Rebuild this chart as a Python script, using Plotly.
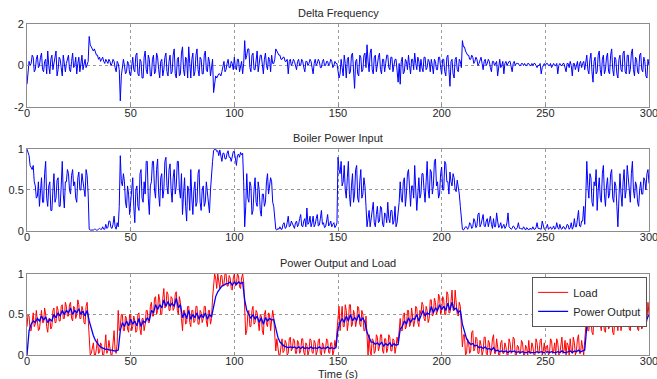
import plotly.graph_objects as go

# sample times
t_fast = [i * 0.5 for i in range(601)]   # 0.5 s samples
t_slow = list(range(301))                # 1 s samples

delta_freq = [
 -0.9,-0.2, 0.2,0.0, 0.1,0.5, 0.4,-0.3, -0.2,0.3,
 0.5,-0.1, 0.0,0.4, 0.6,-0.2, -0.3,0.2, 0.3,-0.4,
 0.7,0.0, -0.4,0.3, 0.5,-0.2, 0.1,0.6, 0.7,-0.5,
 -0.2,0.4, 0.3,-0.1, -0.5,0.5, 0.2,-0.3, 0.1,0.3,
 0.5,-0.2, -0.3,0.2, 0.6,-0.1, 0.0,0.4, -0.4,0.1,
 0.4,-0.3, 0.2,0.5, -0.2,0.1, 0.3,-0.1, 0.1,0.2,
 1.4,1.0, 0.9,0.8, 0.7,0.8, 0.6,0.5, 0.5,0.3,
 0.4,0.2, 0.3,0.4, 0.2,0.1, 0.3,0.2, 0.1,0.3,
 0.2,0.0, 0.1,0.3, 0.2,-0.1, -0.3,0.2, 0.1,-0.2,
 -1.7,-0.5, -0.2,0.3, 0.0,-0.4, -0.3,0.2, 0.1,-0.4,
 -0.5,0.2, 0.4,-0.2, -0.3,0.5, 0.6,-0.4, -0.5,0.3,
 0.2,-0.6, -0.6,0.4, 0.7,-0.2, -0.4,0.5, 0.3,-0.5,
 -0.5,0.3, 0.5,-0.4, -0.3,0.6, 0.4,-0.2, -0.6,0.2,
 0.3,-0.5, -0.2,0.4, 0.6,-0.3, -0.5,0.2, 0.5,-0.4,
 -0.3,0.5, 0.8,-0.4, -0.6,0.3, 0.4,-0.5, -0.4,0.6,
 0.9,-0.2, -0.5,0.4, 0.3,-0.6, 0.9,0.1, -0.6,0.3,
 0.6,-0.5, -0.3,0.5, 0.8,-0.2, -0.5,0.4, 0.3,-0.4,
 -0.4,0.5, 0.7,-0.2, -0.3,0.4, 0.2,-0.5, -0.2,0.3,
 -1.3,-0.8, -0.5,-0.6, -0.5,-0.4, -0.4,-0.5, -0.3,0.0,
 0.2,-0.3, -0.2,0.1, 0.3,-0.1, -0.1,0.2, 0.1,-0.2,
 0.4,-0.1, -0.2,0.3, 0.3,-0.3, 0.0,0.2, -0.4,0.1,
 1.2,0.3, 0.5,0.8, 0.8,-0.1, -0.3,0.5, 0.6,-0.2,
 -0.2,0.4, 0.7,-0.3, 0.1,0.5, 0.5,-0.2, -0.4,0.3,
 0.6,0.0, -0.2,0.4, 0.3,-0.3, 0.5,0.1, 0.1,0.3,
 0.8,0.7, 0.6,0.5, 0.5,0.3, 0.3,0.4, 0.4,0.2,
 0.2,0.3, -0.4,0.2, 0.3,0.0, 0.1,0.3, 0.2,-0.1,
 -0.2,0.2, 0.3,0.0, 0.0,0.3, 0.2,-0.1, -0.3,0.2,
 0.2,0.0, 0.1,0.3, 0.2,-0.1, -0.4,0.1, 0.3,0.0,
 0.1,0.3, 0.2,-0.1, -0.1,0.2, 0.3,0.0, 0.0,0.2,
 0.2,0.0, 0.1,0.3, 0.2,-0.1, 0.0,0.2, 0.1,0.1,
 -0.3,-0.6, -0.4,0.3, -0.1,-0.5, 0.5,0.1, -0.6,0.3,
 0.4,-0.4, -0.3,0.5, 0.6,-0.2, -1.1,0.2, 0.3,-0.4,
 -0.5,0.5, 0.4,-0.3, -0.2,0.5, 0.6,-0.1, 1.0,0.2,
 -0.3,0.6, 0.8,-0.2, -0.4,0.4, 0.5,-0.3, 0.1,0.4,
 0.6,-0.2, -0.4,0.3, 0.3,-0.3, 0.1,0.5, 0.5,-0.1,
 -0.2,0.4, 0.4,-0.3, 0.0,0.3, 0.3,-0.2, -0.8,0.1,
 -0.9,0.2, 0.4,-0.4, -0.3,0.3, 0.2,-0.2, 0.5,0.0,
 -0.4,0.3, 0.3,-0.2, 0.6,0.1, -0.2,0.4, 0.2,-0.3,
 0.3,-0.1, -0.3,0.4, 0.4,-0.2, -0.1,0.3, 0.2,-0.3,
 0.3,0.0, -0.4,0.3, 0.2,-0.2, -0.2,0.4, 0.4,-0.1,
 -0.4,0.3, 0.3,-0.3, -0.5,0.4, 0.5,-0.2, -1.0,0.2,
 0.3,-0.4, -0.6,0.3, 0.4,-0.2, -0.3,0.3, 0.2,-0.1,
 1.2,0.9, 0.9,0.7, 0.6,0.5, 0.5,0.3, 0.3,0.5,
 0.4,0.1, 0.2,0.4, 0.3,0.0, 0.1,0.3, 0.4,0.1,
 -0.2,0.2, 0.3,0.0, 0.1,0.3, 0.2,-0.1, -0.3,0.2,
 0.2,0.0, 0.1,0.2, -0.5,0.1, 0.3,-0.1, 0.0,0.2,
 -0.4,0.1, 0.2,0.0, 0.1,0.2, 0.2,-0.1, -0.3,0.1,
 0.2,0.0, 0.1,0.1, 0.1,0.0, 0.0,0.1, 0.1,0.0,
 0.1,0.0, 0.0,0.1, 0.1,0.0, 0.0,0.1, 0.0,0.1,
 0.1,0.0, -0.1,0.0, 0.0,0.1, -0.4,-0.1, 0.0,0.1,
 0.0,0.1, 0.1,0.0, 0.0,0.1, -0.1,0.0, 0.1,0.0,
 0.0,0.1, -0.4,0.0, 0.1,0.0, 0.0,0.1, 0.1,-0.1,
 -0.3,0.1, 0.1,-0.1, 0.2,0.0, -0.5,0.1, 0.1,-0.2,
 0.0,0.2, -0.3,0.1, 0.2,-0.1, 0.1,0.2, -0.2,0.1,
 0.5,-0.2, -0.4,0.3, 0.6,-0.3, -0.8,0.2, 0.4,-0.4,
 -0.3,0.5, 0.7,-0.2, -0.5,0.3, 0.5,-0.4, -0.2,0.4,
 0.6,-0.3, -0.4,0.5, 0.8,-0.2, -0.5,0.4, 0.3,-0.4,
 -0.6,0.3, 0.5,-0.2, -0.3,0.6, 0.7,-0.3, -0.4,0.5,
 0.5,-0.4, -0.2,0.6, 0.8,-0.2, -0.5,0.4, 0.3,-0.3,
 -0.4,0.5, 0.6,-0.2, -0.3,0.4, 0.2,-0.5, -0.6,0.3,
 0.0]

boiler_input = [
 1.0,0.95, 0.92,0.8, 0.78,0.75, 0.8,0.6, 0.55,0.4,
 0.42,0.6, 0.3,0.45, 0.65,0.35, 0.35,0.7, 0.85,0.4,
 0.3,0.55, 0.6,0.25, 0.25,0.5, 0.7,0.35, 0.4,0.62,
 0.65,0.3, 0.3,0.55, 0.85,0.45, 0.28,0.6, 0.6,0.75,
 0.7,0.5, 0.45,0.68, 0.75,0.55, 0.6,0.4, 0.35,0.65,
 0.72,0.5, 0.5,0.7, 0.6,0.45, 0.42,0.75, 0.68,0.45,
 0.02,0.01, 0.01,0.01, 0.01,0.02, 0.02,0.01, 0.01,0.02,
 0.03,0.02, 0.02,0.05, 0.02,0.02, 0.08,0.03, 0.04,0.12,
 0.12,0.04, 0.03,0.08, 0.18,0.05, 0.02,0.1, 0.05,0.3,
 0.92,0.6, 0.55,0.7, 0.6,0.35, 0.28,0.55, 0.45,0.2,
 0.35,0.6, 0.65,0.3, 0.1,0.5, 0.55,0.3, 0.25,0.7,
 0.75,0.4, 0.35,0.6, 0.45,0.85, 0.85,0.4, 0.2,0.55,
 0.6,0.85, 0.85,0.5, 0.4,0.75, 0.88,0.45, 0.3,0.65,
 0.7,0.4, 0.5,0.85, 0.9,0.55, 0.45,0.75, 0.82,0.5,
 0.35,0.65, 0.75,0.45, 0.55,0.85, 0.85,0.5, 0.4,0.7,
 0.2,0.45, 0.65,0.3, 0.12,0.55, 0.5,0.25, 0.75,0.4,
 0.2,0.5, 0.6,0.3, 0.35,0.7, 0.75,0.35, 0.25,0.5,
 0.55,0.3, 0.35,0.6, 0.45,0.3, 0.22,0.5, 0.75,0.85,
 0.98,1.0, 1.0,0.97, 0.98,0.92, 0.99,0.9, 0.85,0.95,
 0.95,0.88, 0.88,0.95, 0.98,0.9, 0.9,0.85, 0.93,0.97,
 0.97,0.88, 0.8,0.92, 0.94,0.9, 0.96,0.93, 0.95,0.6,
 0.05,0.3, 0.7,0.4, 0.35,0.6, 0.55,0.2, 0.25,0.5,
 0.65,0.35, 0.3,0.6, 0.5,0.25, 0.18,0.45, 0.45,0.3,
 0.35,0.6, 0.7,0.45, 0.55,0.65, 0.6,0.35, 0.3,0.15,
 0.02,0.01, 0.03,0.02, 0.05,0.02, 0.02,0.08, 0.1,0.03,
 0.04,0.1, 0.18,0.05, 0.06,0.12, 0.08,0.04, 0.03,0.1,
 0.12,0.05, 0.08,0.15, 0.2,0.06, 0.05,0.12, 0.15,0.05,
 0.28,0.08, 0.1,0.18, 0.05,0.1, 0.18,0.05, 0.08,0.15,
 0.2,0.06, 0.07,0.15, 0.25,0.08, 0.1,0.04, 0.05,0.12,
 0.2,0.06, 0.08,0.12, 0.05,0.08, 0.1,0.04, 0.06,0.1,
 0.9,0.75, 0.7,0.85, 0.55,0.6, 0.8,0.5, 0.4,0.65,
 0.85,0.45, 0.3,0.55, 0.7,0.35, 0.45,0.75, 0.8,0.4,
 0.35,0.6, 0.75,0.4, 0.45,0.65, 0.55,0.3, 0.05,0.15,
 0.25,0.05, 0.15,0.3, 0.35,0.1, 0.05,0.2, 0.3,0.1,
 0.12,0.3, 0.28,0.08, 0.05,0.22, 0.2,0.1, 0.35,0.15,
 0.1,0.25, 0.25,0.08, 0.12,0.3, 0.05,0.1, 0.2,0.35,
 0.6,0.4, 0.35,0.6, 0.65,0.3, 0.45,0.7, 0.75,0.45,
 0.3,0.55, 0.55,0.4, 0.8,0.5, 0.25,0.45, 0.65,0.4,
 0.45,0.7, 0.7,0.5, 0.35,0.6, 0.85,0.5, 0.4,0.75,
 0.72,0.45, 0.55,0.85, 0.88,0.55, 0.6,0.4, 0.45,0.7,
 0.78,0.5, 0.5,0.85, 0.82,0.6, 0.6,0.45, 0.72,0.6,
 0.55,0.7, 0.65,0.5, 0.48,0.62, 0.55,0.45, 0.3,0.15,
 0.02,0.01, 0.03,0.05, 0.05,0.02, 0.04,0.1, 0.08,0.03,
 0.05,0.15, 0.12,0.04, 0.06,0.2, 0.22,0.05, 0.08,0.15,
 0.2,0.06, 0.05,0.12, 0.15,0.05, 0.1,0.18, 0.08,0.03,
 0.15,0.05, 0.05,0.22, 0.12,0.04, 0.06,0.1, 0.03,0.05,
 0.08,0.03, 0.05,0.1, 0.22,0.05, 0.04,0.02, 0.03,0.06,
 0.05,0.02, 0.02,0.04, 0.1,0.03, 0.03,0.02, 0.02,0.05,
 0.02,0.01, 0.04,0.02, 0.01,0.03, 0.02,0.02, 0.05,0.02,
 0.02,0.04, 0.1,0.03, 0.03,0.02, 0.02,0.12, 0.05,0.02,
 0.02,0.04, 0.08,0.02, 0.03,0.05, 0.02,0.03, 0.06,0.02,
 0.03,0.1, 0.04,0.02, 0.08,0.03, 0.02,0.05, 0.05,0.02,
 0.03,0.08, 0.07,0.02, 0.04,0.1, 0.02,0.05, 0.15,0.05,
 0.05,0.2, 0.25,0.06, 0.05,0.12, 0.12,0.3, 0.08,0.4,
 0.85,0.55, 0.4,0.7, 0.65,0.35, 0.3,0.6, 0.55,0.75,
 0.25,0.5, 0.65,0.4, 0.35,0.7, 0.8,0.45, 0.3,0.55,
 0.65,0.4, 0.45,0.7, 0.75,0.4, 0.35,0.6, 0.55,0.3,
 0.05,0.4, 0.7,0.45, 0.3,0.6, 0.75,0.4, 0.5,0.8,
 0.65,0.45, 0.35,0.7, 0.85,0.5, 0.4,0.6, 0.55,0.35,
 0.3,0.5, 0.6,0.45, 0.45,0.65, 0.62,0.5, 0.7,0.75,
 0.58]

load = [
 0.35,0.5, 0.48,0.3, 0.3,0.45, 0.52,0.35, 0.38,0.55,
 0.45,0.3, 0.32,0.5, 0.55,0.4, 0.4,0.58, 0.5,0.35,
 0.28,0.45, 0.45,0.32, 0.35,0.55, 0.58,0.4, 0.4,0.6,
 0.55,0.42, 0.42,0.6, 0.62,0.45, 0.45,0.65, 0.6,0.48,
 0.48,0.62, 0.65,0.45, 0.42,0.6, 0.58,0.45, 0.5,0.68,
 0.62,0.45, 0.45,0.6, 0.55,0.4, 0.38,0.6, 0.65,0.45,
 0.1,0.0, 0.02,0.12, 0.15,0.0, 0.0,0.08, 0.2,0.02,
 0.03,0.15, 0.12,0.0, 0.0,0.1, 0.25,0.02, 0.05,0.18,
 0.1,0.0, 0.0,0.2, 0.3,0.05, 0.02,0.15, 0.55,0.3,
 0.35,0.5, 0.5,0.3, 0.3,0.48, 0.45,0.32, 0.28,0.5,
 0.5,0.3, 0.35,0.48, 0.42,0.28, 0.3,0.5, 0.52,0.32,
 0.25,0.45, 0.45,0.3, 0.38,0.55, 0.55,0.4, 0.4,0.6,
 0.65,0.48, 0.48,0.7, 0.72,0.5, 0.55,0.75, 0.68,0.5,
 0.5,0.7, 0.82,0.58, 0.6,0.78, 0.75,0.55, 0.55,0.72,
 0.7,0.55, 0.58,0.75, 0.78,0.55, 0.5,0.72, 0.65,0.45,
 0.3,0.55, 0.55,0.38, 0.4,0.6, 0.6,0.4, 0.35,0.55,
 0.55,0.4, 0.42,0.6, 0.6,0.38, 0.38,0.55, 0.52,0.4,
 0.45,0.6, 0.6,0.42, 0.35,0.55, 0.55,0.38, 0.45,0.7,
 0.85,1.0, 0.95,0.82, 1.0,0.9, 0.82,0.98, 0.98,0.85,
 0.88,1.0, 1.0,0.85, 0.85,0.98, 0.95,0.82, 0.8,0.95,
 1.0,0.85, 0.88,1.0, 0.98,0.84, 0.82,0.95, 1.0,0.9,
 0.45,0.25, 0.3,0.5, 0.55,0.35, 0.35,0.55, 0.6,0.38,
 0.4,0.55, 0.52,0.35, 0.3,0.5, 0.48,0.3, 0.25,0.5,
 0.55,0.38, 0.35,0.52, 0.5,0.3, 0.42,0.55, 0.45,0.3,
 0.05,0.2, 0.12,0.0, 0.0,0.15, 0.2,0.03, 0.05,0.18,
 0.15,0.0, 0.02,0.2, 0.22,0.05, 0.08,0.2, 0.18,0.02,
 0.02,0.18, 0.15,0.02, 0.05,0.2, 0.2,0.03, 0.0,0.15,
 0.12,0.0, 0.05,0.2, 0.18,0.03, 0.02,0.18, 0.15,0.0,
 0.05,0.18, 0.2,0.02, 0.0,0.15, 0.12,0.02, 0.08,0.2,
 0.18,0.03, 0.02,0.15, 0.15,0.0, 0.05,0.18, 0.1,0.3,
 0.45,0.6, 0.3,0.5, 0.6,0.35, 0.35,0.62, 0.55,0.3,
 0.4,0.62, 0.62,0.35, 0.38,0.55, 0.5,0.35, 0.42,0.6,
 0.58,0.38, 0.35,0.55, 0.5,0.3, 0.3,0.48, 0.15,0.0,
 0.25,0.05, 0.0,0.2, 0.18,0.02, 0.05,0.25, 0.22,0.05,
 0.1,0.25, 0.25,0.05, 0.02,0.2, 0.2,0.03, 0.08,0.25,
 0.22,0.05, 0.05,0.2, 0.18,0.02, 0.1,0.22, 0.15,0.3,
 0.45,0.3, 0.3,0.5, 0.52,0.32, 0.35,0.55, 0.55,0.35,
 0.38,0.58, 0.48,0.35, 0.42,0.6, 0.58,0.4, 0.35,0.55,
 0.5,0.65, 0.62,0.45, 0.42,0.6, 0.55,0.4, 0.45,0.68,
 0.68,0.48, 0.5,0.7, 0.65,0.5, 0.55,0.75, 0.72,0.5,
 0.55,0.72, 0.68,0.5, 0.5,0.78, 0.75,0.52, 0.52,0.7,
 0.8,0.55, 0.55,0.8, 0.62,0.5, 0.48,0.65, 0.6,0.35,
 0.1,0.25, 0.25,0.0, 0.02,0.2, 0.15,0.02, 0.05,0.28,
 0.3,0.05, 0.08,0.22, 0.2,0.02, 0.02,0.18, 0.12,0.0,
 0.05,0.22, 0.22,0.02, 0.0,0.18, 0.15,0.0, 0.05,0.2,
 0.25,0.02, 0.02,0.2, 0.12,0.0, 0.0,0.15, 0.18,0.02,
 0.02,0.15, 0.1,0.0, 0.0,0.2, 0.15,0.02, 0.05,0.22,
 0.2,0.0, 0.0,0.12, 0.1,0.02, 0.02,0.18, 0.15,0.0,
 0.0,0.12, 0.08,0.0, 0.18,0.02, 0.02,0.15, 0.1,0.0,
 0.0,0.2, 0.15,0.02, 0.03,0.18, 0.2,0.0, 0.05,0.15,
 0.0,0.1, 0.12,0.0, 0.02,0.2, 0.18,0.02, 0.05,0.15,
 0.0,0.2, 0.15,0.0, 0.02,0.12, 0.22,0.02, 0.05,0.18,
 0.0,0.15, 0.12,0.0, 0.2,0.05, 0.02,0.22, 0.15,0.0,
 0.05,0.2, 0.25,0.02, 0.02,0.18, 0.1,0.0, 0.18,0.3,
 0.5,0.3, 0.3,0.5, 0.45,0.28, 0.25,0.52, 0.55,0.35,
 0.35,0.58, 0.6,0.38, 0.3,0.55, 0.45,0.3, 0.28,0.5,
 0.52,0.32, 0.35,0.55, 0.45,0.28, 0.25,0.5, 0.6,0.38,
 0.3,0.55, 0.48,0.3, 0.4,0.58, 0.62,0.4, 0.35,0.55,
 0.5,0.32, 0.3,0.52, 0.45,0.35, 0.38,0.6, 0.55,0.32,
 0.3,0.5, 0.48,0.32, 0.35,0.62, 0.58,0.38, 0.42,0.65,
 0.5]

power_output = [
 0.0, 0.3, 0.38, 0.42, 0.4, 0.45, 0.42, 0.48, 0.43, 0.47,
 0.4, 0.44, 0.42, 0.5, 0.46, 0.52, 0.48, 0.55, 0.5, 0.55,
 0.52, 0.58, 0.5, 0.55, 0.52, 0.57, 0.5, 0.54, 0.48, 0.55,
 0.42, 0.32, 0.24, 0.18, 0.14, 0.11, 0.09, 0.08, 0.07, 0.07,
 0.06, 0.06, 0.05, 0.05, 0.06, 0.3, 0.4, 0.35, 0.42, 0.36,
 0.44, 0.38, 0.42, 0.36, 0.45, 0.35, 0.42, 0.4, 0.46, 0.42,
 0.55, 0.52, 0.62, 0.56, 0.62, 0.58, 0.68, 0.6, 0.66, 0.6,
 0.64, 0.6, 0.7, 0.58, 0.62, 0.46, 0.52, 0.45, 0.55, 0.44,
 0.5, 0.46, 0.52, 0.44, 0.5, 0.46, 0.52, 0.44, 0.5, 0.47,
 0.62, 0.72, 0.78, 0.82, 0.85, 0.86, 0.88, 0.88, 0.9, 0.86,
 0.9, 0.87, 0.9, 0.88, 0.9, 0.68, 0.55, 0.5, 0.45, 0.5,
 0.44, 0.48, 0.4, 0.46, 0.38, 0.46, 0.42, 0.45, 0.43, 0.44,
 0.32, 0.22, 0.16, 0.13, 0.11, 0.1, 0.09, 0.1, 0.09, 0.1,
 0.08, 0.1, 0.08, 0.1, 0.08, 0.09, 0.08, 0.1, 0.08, 0.09,
 0.08, 0.1, 0.08, 0.09, 0.08, 0.1, 0.08, 0.09, 0.08, 0.09,
 0.32, 0.4, 0.45, 0.4, 0.48, 0.42, 0.5, 0.42, 0.46, 0.43,
 0.5, 0.42, 0.46, 0.4, 0.28, 0.22, 0.16, 0.16, 0.13, 0.15,
 0.12, 0.16, 0.11, 0.14, 0.12, 0.15, 0.11, 0.14, 0.12, 0.13,
 0.32, 0.35, 0.42, 0.38, 0.46, 0.4, 0.45, 0.44, 0.5, 0.42,
 0.48, 0.55, 0.48, 0.52, 0.5, 0.6, 0.52, 0.58, 0.55, 0.62,
 0.56, 0.6, 0.55, 0.64, 0.55, 0.65, 0.56, 0.58, 0.52, 0.55,
 0.38, 0.28, 0.2, 0.16, 0.13, 0.14, 0.11, 0.12, 0.09, 0.1,
 0.08, 0.1, 0.07, 0.08, 0.06, 0.09, 0.05, 0.06, 0.04, 0.05,
 0.04, 0.05, 0.03, 0.05, 0.04, 0.05, 0.03, 0.04, 0.03, 0.04,
 0.03, 0.03, 0.04, 0.03, 0.03, 0.03, 0.04, 0.03, 0.04, 0.03,
 0.03, 0.04, 0.03, 0.04, 0.03, 0.03, 0.04, 0.03, 0.05, 0.03,
 0.03, 0.04, 0.05, 0.03, 0.05, 0.04, 0.06, 0.04, 0.05, 0.06,
 0.35, 0.38, 0.42, 0.36, 0.45, 0.38, 0.48, 0.38, 0.45, 0.36,
 0.46, 0.4, 0.44, 0.36, 0.48, 0.38, 0.45, 0.42, 0.5, 0.4,
 0.46, 0.38, 0.44, 0.4, 0.48, 0.36, 0.45, 0.4, 0.5, 0.44,
 0.5]

x_ticks = [0, 50, 100, 150, 200, 250, 300]
titles = ["Delta Frequency", "Boiler Power Input", "Power Output and Load"]

FONT = "Liberation Sans, Arial, sans-serif"
TXT = "#262626"
BLUE = "#0000ff"
RED = "#ff0000"

fig = go.Figure()
fig.add_trace(go.Scatter(x=t_fast, y=delta_freq, mode="lines", line=dict(color=BLUE, width=1),
                         showlegend=False, xaxis="x", yaxis="y"))
fig.add_trace(go.Scatter(x=t_fast, y=boiler_input, mode="lines", line=dict(color=BLUE, width=1),
                         showlegend=False, xaxis="x2", yaxis="y2"))
fig.add_trace(go.Scatter(x=t_fast, y=load, mode="lines", line=dict(color=RED, width=1),
                         name="Load", xaxis="x3", yaxis="y3"))
fig.add_trace(go.Scatter(x=t_slow, y=power_output, mode="lines", line=dict(color=BLUE, width=1.3),
                         name="Power Output", xaxis="x3", yaxis="y3"))

axis_common = dict(showline=True, mirror=True, linecolor="#8c8c8c", linewidth=1,
                   showgrid=True, gridcolor="#9a9a9a", griddash="dot", gridwidth=1,
                   zeroline=False, ticks="inside", ticklen=3, tickcolor="#8c8c8c",
                   tickfont=dict(family=FONT, size=11, color=TXT), automargin=False)

# plot area: x 27..649 px, panels at y 24-107, 149-231, 274-355 px
domains = [[0.749, 1.0], [0.375, 0.622], [0.0, 0.245]]
yranges = [[-2, 2], [0, 1], [0, 1]]
yticks = [[-2, 0, 2], [0, 0.5, 1], [0, 0.5, 1]]
ytext = [["-2", "0", "2"], ["0", "0.5", "1"], ["0", "0.5", "1"]]

layout = dict(width=657, height=379, margin=dict(l=27, r=8, t=24, b=24),
              paper_bgcolor="white", plot_bgcolor="white",
              font=dict(family=FONT, size=11, color=TXT))
for i in range(3):
    sfx = "" if i == 0 else str(i + 1)
    layout["xaxis" + sfx] = dict(axis_common, domain=[0, 1], range=[0, 300], tickvals=x_ticks,
                                 anchor="y" + sfx, ticklabeloverflow="allow",
                                 ticklabelstandoff=-4)
    layout["yaxis" + sfx] = dict(axis_common, domain=domains[i], range=yranges[i],
                                 tickvals=yticks[i], ticktext=ytext[i], anchor="x" + sfx,
                                 ticklabeloverflow="allow")
fig.update_layout(**layout)

ann_y = [1.033, 0.6556, 0.278]
for i, t in enumerate(titles):
    fig.add_annotation(text=t, x=0.5, y=ann_y[i], xref="paper", yref="paper",
                       showarrow=False, xanchor="center", yanchor="middle",
                       font=dict(family=FONT, size=11, color=TXT))
fig.add_annotation(text="Time (s)", x=0.5, y=-0.057, xref="paper", yref="paper",
                   showarrow=False, xanchor="center", yanchor="middle",
                   font=dict(family=FONT, size=11, color=TXT))

fig.update_layout(legend=dict(x=0.997, y=0.236, xanchor="right", yanchor="top",
                              bgcolor="white", bordercolor="#555555", borderwidth=1,
                              font=dict(family=FONT, size=11, color=TXT),
                              tracegroupgap=0, itemwidth=30))

fig.write_html("out.html")
